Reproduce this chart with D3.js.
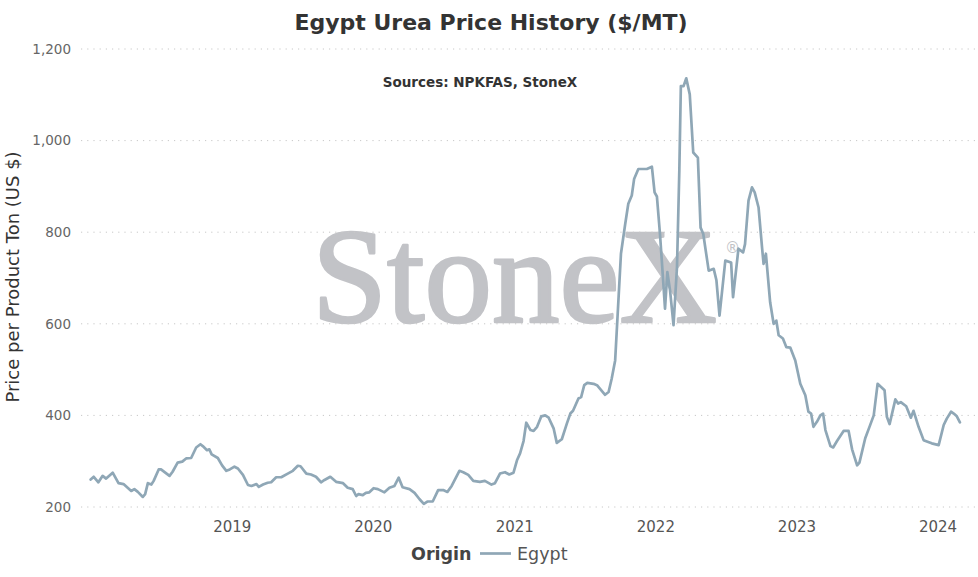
<!DOCTYPE html>
<html>
<head>
<meta charset="utf-8">
<script src="https://cdn.jsdelivr.net/npm/d3@7"></script>
<style>
  body { margin: 0; background: #fff; }
  svg { display: block; font-family: "DejaVu Sans", Verdana, sans-serif; }
</style>
</head>
<body>
<svg id="chart" width="978" height="577"></svg>
<script>
// weekly-ish Egypt urea prices
const dates = [
  "2018-01-01","2018-01-09","2018-01-21","2018-02-01","2018-02-10","2018-02-27","2018-03-14","2018-03-27",
  "2018-04-16","2018-04-24","2018-05-03","2018-05-16","2018-05-22","2018-05-29","2018-06-07","2018-06-13",
  "2018-06-26","2018-07-02","2018-07-24","2018-08-01","2018-08-14","2018-08-26","2018-09-05","2018-09-18",
  "2018-10-01","2018-10-12","2018-10-18","2018-10-29","2018-11-04","2018-11-10","2018-11-26","2018-12-07",
  "2018-12-18","2018-12-27","2019-01-08","2019-01-17","2019-01-30","2019-02-12","2019-02-21","2019-03-06",
  "2019-03-12","2019-03-23","2019-04-04","2019-04-13","2019-04-26","2019-05-09","2019-05-26","2019-06-08",
  "2019-06-21","2019-06-28","2019-07-13","2019-07-25","2019-08-07","2019-08-20","2019-08-29","2019-09-13",
  "2019-09-28","2019-10-16","2019-10-28","2019-11-10","2019-11-19","2019-11-25","2019-12-06","2019-12-14",
  "2019-12-23","2020-01-03","2020-01-14","2020-01-31","2020-02-13","2020-02-26","2020-03-08","2020-03-18",
  "2020-04-05","2020-04-18","2020-05-01","2020-05-12","2020-05-21","2020-06-04","2020-06-18","2020-07-01",
  "2020-07-12","2020-07-23","2020-08-12","2020-08-22","2020-09-04","2020-09-17","2020-10-04","2020-10-17",
  "2020-11-03","2020-11-12","2020-11-25","2020-12-08","2020-12-19","2020-12-30","2021-01-08","2021-01-16",
  "2021-01-25","2021-02-01","2021-02-12","2021-02-20","2021-03-01","2021-03-12","2021-03-22","2021-03-31",
  "2021-04-13","2021-04-21","2021-05-04","2021-05-17","2021-05-26","2021-06-02","2021-06-16","2021-06-23",
  "2021-07-01","2021-07-09","2021-07-25","2021-08-03","2021-08-11","2021-08-24","2021-09-02","2021-09-10",
  "2021-09-19","2021-10-04","2021-10-15","2021-10-23","2021-11-01","2021-11-07","2021-11-18","2021-12-10",
  "2021-12-23","2021-12-30","2022-01-05","2022-01-13","2022-01-20","2022-01-26","2022-02-01","2022-02-08",
  "2022-02-17","2022-02-26","2022-03-04","2022-03-08","2022-03-15","2022-03-22","2022-03-31","2022-04-09",
  "2022-04-21","2022-04-28","2022-05-05","2022-05-19","2022-06-01","2022-06-08","2022-06-16","2022-07-01",
  "2022-07-16","2022-07-21","2022-08-04","2022-08-16","2022-08-21","2022-08-30","2022-09-08","2022-09-15",
  "2022-09-25","2022-10-04","2022-10-08","2022-10-14","2022-10-25","2022-11-03","2022-11-10","2022-11-16",
  "2022-11-27","2022-12-06","2022-12-16","2022-12-29","2023-01-11","2023-01-24","2023-02-01","2023-02-08",
  "2023-02-14","2023-02-23","2023-03-04","2023-03-11","2023-03-17","2023-03-30","2023-04-06","2023-04-16",
  "2023-05-03","2023-05-16","2023-05-25","2023-06-07","2023-06-13","2023-06-28","2023-07-09","2023-07-20",
  "2023-07-30","2023-08-17","2023-08-23","2023-08-30","2023-09-14","2023-09-21","2023-09-28","2023-10-12",
  "2023-10-24","2023-10-31","2023-11-13","2023-11-26","2023-12-08","2023-12-17","2024-01-04","2024-01-17",
  "2024-01-25","2024-02-05","2024-02-12","2024-02-20","2024-02-28"
];
const prices = [
  260,266,254,268,262,275,252,250,
  235,239,233,222,228,252,249,257,
  282,282,268,277,297,299,306,307,
  330,337,333,324,326,315,307,291,
  279,282,288,284,270,248,246,250,
  244,249,253,254,265,265,273,279,
  290,289,273,271,266,254,259,266,
  255,252,242,239,224,228,226,231,
  232,241,239,232,242,246,264,243,
  239,231,217,207,212,212,237,237,
  233,246,279,276,270,257,255,257,
  249,252,273,276,271,275,302,317,
  344,384,368,366,375,398,400,395,
  371,340,348,382,404,410,437,440,
  466,471,469,466,458,445,451,480,
  520,753,818,862,880,916,938,938,
  943,887,878,796,709,633,713,673,
  597,724,934,1119,1119,1136,1101,974,
  963,810,796,716,720,695,618,738,
  734,658,764,756,774,869,898,887,
  854,767,731,753,647,600,607,575,
  568,549,548,520,469,444,408,404,
  375,386,400,404,368,333,330,344,
  366,366,326,291,297,350,375,400,
  469,455,397,381,435,426,429,420,
  395,410,375,346,342,339,335,379,
  393,408,404,398,385
];
const yTicks = [200, 400, 600, 800, 1000, 1200];
const xTickYears = ["2019", "2020", "2021", "2022", "2023", "2024"];
const seriesName = "Egypt";

const parse = d3.timeParse("%Y-%m-%d");
const data = dates.map((d, i) => ({ date: parse(d), price: prices[i] }));

const svg = d3.select("#chart");
const plot = { left: 81, right: 975, top: 49, bottom: 507 };
const lineColor = "#8fa7b6";

const x = d3.scaleTime()
  .domain([parse("2017-12-07"), parse("2024-04-07")])
  .range([plot.left, plot.right]);
const y = d3.scaleLinear()
  .domain([200, 1200])
  .range([plot.bottom, plot.top]);

// watermark sits behind everything
const wm = svg.append("g").attr("class", "watermark");
wm.append("text")
  .attr("x", 312)
  .attr("y", 322)
  .attr("font-family", "'Liberation Serif', 'DejaVu Serif', serif")
  .attr("font-size", 135)
  .attr("fill", "#c2c3c7")
  .attr("stroke", "#c2c3c7")
  .attr("stroke-width", 2.6)
  .attr("stroke-linejoin", "round")
  .text("StoneX");
wm.append("text")
  .attr("x", 725)
  .attr("y", 253)
  .attr("font-family", "'DejaVu Sans', sans-serif")
  .attr("font-size", 15)
  .attr("fill", "#c2c3c7")
  .text("®");

// gridlines + y labels
const yAxis = svg.append("g").attr("class", "y_axis");
yAxis.selectAll("line")
  .data(yTicks)
  .enter().append("line")
  .attr("x1", plot.left)
  .attr("x2", plot.right)
  .attr("y1", d => y(d))
  .attr("y2", d => y(d))
  .attr("stroke", "#c8c8c8")
  .attr("stroke-width", 1)
  .attr("stroke-dasharray", "1.2,5");
yAxis.selectAll("text")
  .data(yTicks)
  .enter().append("text")
  .attr("x", 71)
  .attr("y", d => y(d))
  .attr("dy", "0.35em")
  .attr("text-anchor", "end")
  .attr("font-size", 13.5)
  .attr("fill", "#666")
  .text(d3.format(","));

// x axis labels only, no domain line
const parseYear = d3.timeParse("%Y");
const xAxis = svg.append("g")
  .attr("class", "x_axis")
  .attr("transform", "translate(0," + plot.bottom + ")")
  .call(d3.axisBottom(x)
    .tickValues(xTickYears.map(parseYear))
    .tickFormat(d3.timeFormat("%Y"))
    .tickSize(0)
    .tickPadding(14));
xAxis.select(".domain").remove();
xAxis.selectAll("text")
  .attr("font-family", "'DejaVu Sans', Verdana, sans-serif")
  .attr("font-size", 15)
  .attr("fill", "#555");

// price line
const line = d3.line()
  .x(d => x(d.date))
  .y(d => y(d.price));
svg.append("path")
  .datum(data)
  .attr("fill", "none")
  .attr("stroke", lineColor)
  .attr("stroke-width", 2.7)
  .attr("stroke-linejoin", "round")
  .attr("stroke-linecap", "round")
  .attr("d", line);

// titles
svg.append("text")
  .attr("x", 491)
  .attr("y", 30)
  .attr("text-anchor", "middle")
  .attr("font-size", 22)
  .attr("font-weight", "bold")
  .attr("fill", "#333")
  .text("Egypt Urea Price History ($/MT)");
svg.append("text")
  .attr("x", 480)
  .attr("y", 87)
  .attr("text-anchor", "middle")
  .attr("font-size", 13.5)
  .attr("font-weight", "bold")
  .attr("fill", "#333")
  .text("Sources: NPKFAS, StoneX");

svg.append("text")
  .attr("transform", "translate(19,277) rotate(-90)")
  .attr("text-anchor", "middle")
  .attr("font-size", 18)
  .attr("fill", "#333")
  .text("Price per Product Ton (US $)");

// legend
const legend = svg.append("g").attr("class", "legend");
legend.append("text")
  .attr("x", 411)
  .attr("y", 560)
  .attr("font-size", 17.5)
  .attr("font-weight", "bold")
  .attr("fill", "#444")
  .text("Origin");
legend.append("line")
  .attr("x1", 480)
  .attr("x2", 511)
  .attr("y1", 553.5)
  .attr("y2", 553.5)
  .attr("stroke", lineColor)
  .attr("stroke-width", 2.7);
legend.append("text")
  .attr("x", 517)
  .attr("y", 560)
  .attr("font-size", 17.5)
  .attr("fill", "#555")
  .text(seriesName);
</script>
</body>
</html>
